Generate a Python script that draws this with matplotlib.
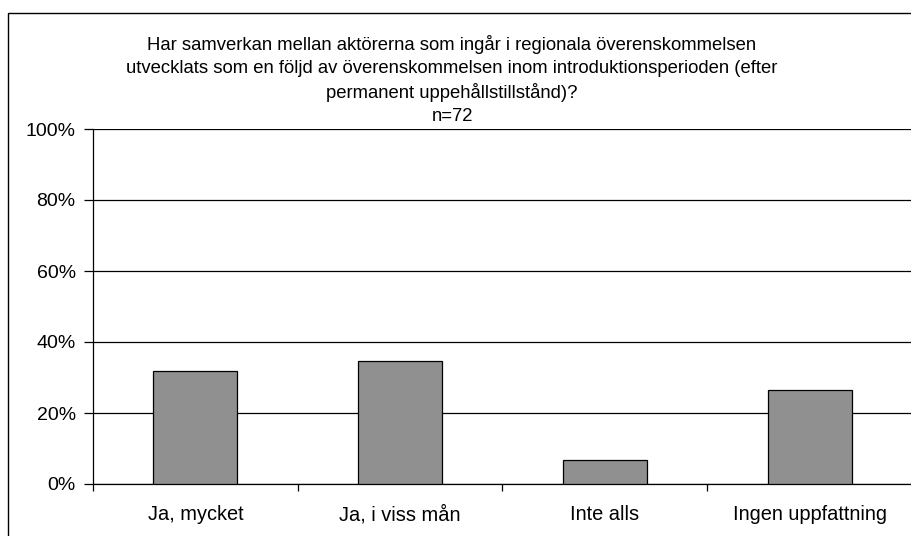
import matplotlib
matplotlib.use("Agg")
import matplotlib.pyplot as plt
from matplotlib.patches import Rectangle
from matplotlib.ticker import FuncFormatter, FixedLocator
from matplotlib.transforms import ScaledTranslation

plt.rcParams.update({"font.family": ["Liberation Sans", "DejaVu Sans"], "font.size": 11})

categories = ["Ja, mycket", "Ja, i viss mån", "Inte alls", "Ingen uppfattning"]
shares = [31.9, 34.7, 6.9, 26.4]
title = ("Har samverkan mellan aktörerna som ingår i regionala överenskommelsen\n"
         "utvecklats som en följd av överenskommelsen inom introduktionsperioden (efter\n"
         "permanent uppehållstillstånd)?\nn=72")

W, H = 912, 536
fig = plt.figure(figsize=(W / 100, H / 100), dpi=100)
ax = fig.add_axes([93 / W, 1 - 484 / H, (912 - 93) / W, (484 - 129) / H])

x = range(len(categories))
ax.bar(x, shares, width=0.41, color="#909090", edgecolor="black", linewidth=0.9, zorder=3)
ax.set_xlim(-0.5, len(categories) - 0.5)
ax.set_ylim(0, 100)
ax.set_yticks(range(0, 101, 20))
ax.yaxis.set_major_formatter(FuncFormatter(lambda v, _: f"{v:.0f}%"))
ax.yaxis.grid(True, color="black", linewidth=0.9, zorder=0)
ax.set_xticks(list(x))
ax.set_xticklabels(categories, fontsize=14.4)
shift = ScaledTranslation(-3 / 100, 0, fig.dpi_scale_trans)
for lab in ax.get_xticklabels():
    lab.set_transform(lab.get_transform() + shift)
ax.xaxis.set_minor_locator(FixedLocator([i + 0.5 for i in range(-1, len(categories))]))
ax.tick_params(axis="x", which="major", length=0, pad=15)
ax.tick_params(axis="x", which="minor", length=5, width=0.9, direction="out")
ax.tick_params(axis="y", length=6.5, width=0.9, labelsize=14, pad=6)
for s in ["top", "right"]:
    ax.spines[s].set_visible(False)
for s in ["left", "bottom"]:
    ax.spines[s].set_linewidth(0.9)

fig.text(452 / W, 1 - 35 / H, title, ha="center", va="top", fontsize=13.3, linespacing=1.43)
fig.patches.append(Rectangle((8 / W, -0.1), 1.2, 1 - 13 / H + 0.1, transform=fig.transFigure,
                             fill=False, edgecolor="black", linewidth=1.0))

fig.savefig("out.png", dpi=100)
